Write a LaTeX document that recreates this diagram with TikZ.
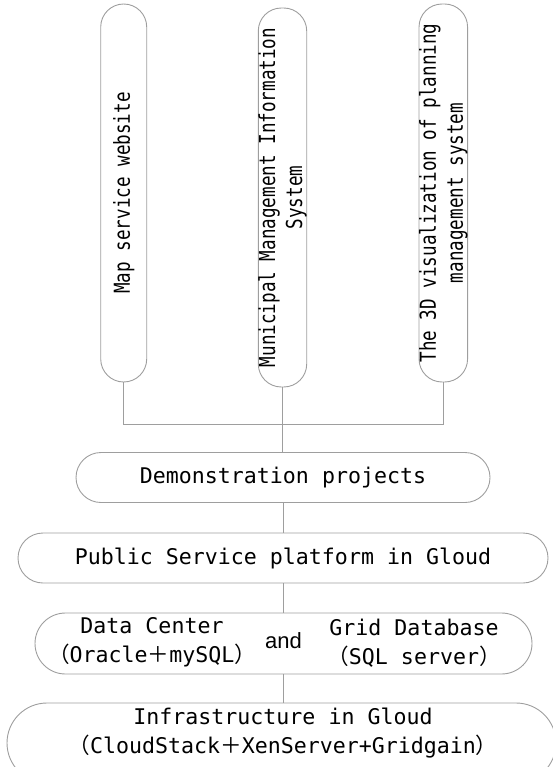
\documentclass[tikz,border=0pt]{standalone}
\usepackage{fontspec}
% fonts: monospaced sans for the labels, a condensed cut for the upright pills,
% CJK full-width brackets and plus sign, and a plain sans for the joining word
\newfontfamily\diagmono{DejaVu Sans Mono}
\newfontfamily\diagnarrow[FakeStretch=0.8]{DejaVu Sans Mono}
\newfontfamily\diagwide{Noto Sans CJK SC}
\newfontfamily\diagsans{Liberation Sans}
\newcommand\fw[1]{{\diagwide #1}}
\definecolor{linegray}{gray}{0.62}

\begin{document}
\begin{tikzpicture}[x=1pt,y=-1pt,
  frame/.style={draw=linegray, line width=0.9pt},
  link/.style={draw=linegray, line width=0.9pt},
  txt/.style={inner sep=0pt, align=center, font=\diagmono\fontsize{21.6}{29}\selectfont},
  hpill/.style={frame, txt, rounded corners=25pt, minimum height=50pt},
  vpill/.style={frame, rotate=90, inner sep=0pt, align=center,
    rounded corners=23pt, minimum height=46pt, minimum width=378pt,
    font=\diagnarrow\fontsize{22}{27}\selectfont},
]
\useasboundingbox (0,0) rectangle (553,767);

% application systems (upright pills; rotated, so .west is the lower end)
\node[vpill] (p1) at (123.7,193) {Map service website};
\node[vpill, minimum width=379pt] (p2) at (282.5,197.5) {Municipal Management Information\\System};
\node[vpill] (p3) at (443.3,193) {The 3D visualization of planning\\management system};

% layers
\node[hpill, minimum width=414pt] (demo) at (283,477.5) {Demonstration projects};
\node[hpill, minimum width=530pt] (pub) at (283,558) {Public Service platform in Gloud};
\node[frame, rounded corners=30.5pt, minimum width=497pt, minimum height=61pt] (data) at (283.5,643.5) {};
\node[txt] (dc) at (152,642.5) {Data Center\\\fw{（}Oracle\fw{＋}mySQL\fw{）}};
\node[inner sep=0pt, font=\diagsans\fontsize{22}{26}\selectfont] (andw) at (283.5,641) {and};
\node[txt] (gd) at (414,643) {Grid Database\\\fw{（}SQL server\fw{）}};
\node[frame, rounded corners=40pt, minimum width=549pt, minimum height=80pt] (infra) at (281.5,743) {};
\node[txt] (infratxt) at (283,733.5) {Infrastructure in Gloud\\\fw{（}CloudStack\fw{＋}XenServer+Gridgain\fw{）}};

% connectors
\coordinate (bar) at (0,424);
\draw[link] (p1.west) -- (p1.west |- bar) -- (p3.west |- bar) -- (p3.west);
\draw[link] (p2.west) -- (p2.west |- demo.north);
\draw[link] (demo.south) -- (demo.south |- pub.north);
\draw[link] (pub.south) -- (pub.south |- data.north);
\draw[link] (data.south) -- (data.south |- infra.north);
\end{tikzpicture}
\end{document}
